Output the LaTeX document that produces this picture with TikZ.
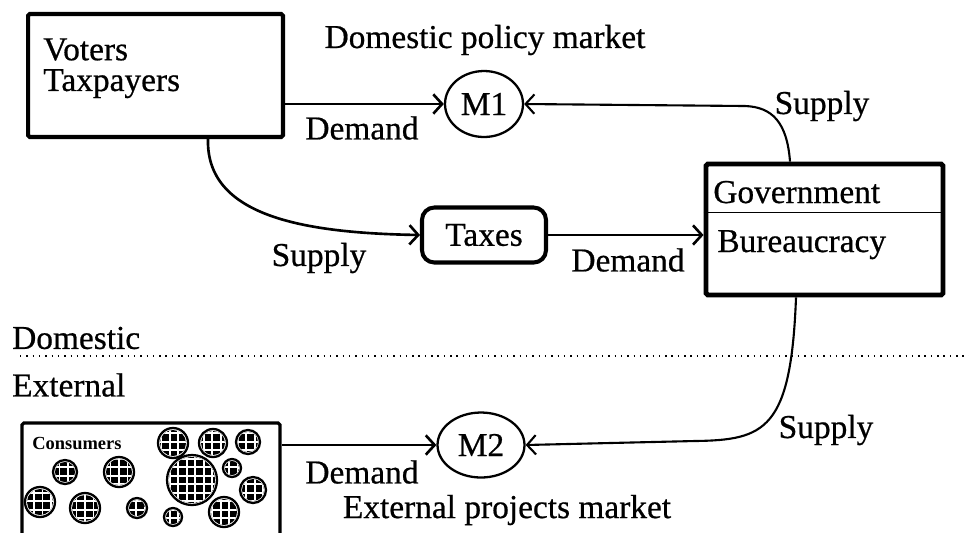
\documentclass[tikz,border=0pt]{standalone}
\usepackage{fontspec}
\setmainfont{Liberation Serif}[UprightFeatures={FakeBold=0.6}]
\usetikzlibrary{shapes.geometric,arrows.meta}

\tikzset{
  box/.style={draw, line width=2.3pt, rounded corners=1pt, inner sep=0pt},
  market/.style={draw, ellipse, line width=1.3pt, inner sep=0pt},
  flow/.style={line width=1.5pt, -{Straight Barb[length=5pt,width=11pt]}},
  txt/.style={inner sep=0pt},
}

\begin{document}
\begin{tikzpicture}[x=0.02cm, y=-0.02cm, font=\fontsize{19}{17.5}\selectfont]
\useasboundingbox (0,0) rectangle (969,532);
\clip (0,0) rectangle (969,532);

% boxes
\node[box, minimum width=5.1cm, minimum height=2.46cm] (voters) at (155.5,75.5) {};
\node[txt, anchor=north west, align=left] (vname) at (43,38) {Voters\\Taxpayers};

\node[box, line width=2.8pt, minimum width=4.74cm, minimum height=2.62cm] (gov) at (824.5,229.5) {};
\coordinate (sep) at (0,212);
\draw[line width=0.5pt] (gov.west |- sep) -- (gov.east |- sep);
\node[txt, anchor=base west] (gname) at (713,203) {Government};
\node[txt, anchor=base west] (bname) at (717,252) {Bureaucracy};

\node[box, rounded corners=7pt, minimum width=2.48cm, minimum height=1.1cm] (taxes) at (484,235) {Taxes};

\node[market, minimum width=1.56cm, minimum height=1.32cm] (m1) at (484,104) {M1};
\node[market, minimum width=1.74cm, minimum height=1.3cm] (m2) at (481,445) {M2};

% consumers
\node[box, line width=1.8pt, minimum width=5.16cm, minimum height=2.6cm] (cons) at (151,488) {};
\node[txt, anchor=west, font=\fontsize{10.5}{12}\selectfont\bfseries] (cname) at (32,443) {Consumers};
\foreach \cx/\cy/\r in {173/443/15, 213/443/14, 248/442/12, 65/472/12, 119/472/15,
                       192/480/25, 232/468/9, 253/490/13, 40/502/15, 85/508/15,
                       137/508/10, 173/517/9, 224/512/15}{
  \draw[line width=1.3pt, fill=white] (\cx,\cy) circle[radius=\r];
  \begin{scope}
    \clip (\cx,\cy) circle[radius=\r-2];
    \fill (\cx-\r,\cy-\r) rectangle (\cx+\r,\cy+\r);
    \draw[white, line width=1.1pt, step=0.17cm] (\cx-\r,\cy-\r) grid (\cx+\r,\cy+\r);
  \end{scope}
}

% flows
\coordinate (bend1) at (745,106);
\coordinate (bend2) at (695,441);
\draw[flow] (voters.east |- m1) -- (m1);
\draw[flow] ([xshift=1.05cm]voters.south) .. controls (206,215) and (300,233) .. (taxes.west);
\draw[flow] (taxes) -- (taxes -| gov.west);
\draw[flow, line width=1.2pt] ([xshift=-0.69cm]gov.north) .. controls (787,122) and (772,107) .. (bend1) -- (m1.east);
\draw[flow, line width=1.2pt] ([xshift=-0.57cm]gov.south) .. controls (791,430) and (765,440) .. (bend2) -- (m2.east);
\draw[flow] (cons.east |- m2) -- (m2);

% labels
\node (dpm) at (485,40) {Domestic policy market};
\node (d1) at (362,128) {Demand};
\node (s1) at (822,106) {Supply};
\node (s2) at (319,258) {Supply};
\node (d2) at (628,260) {Demand};
\node (d3) at (362,472) {Demand};
\node (s3) at (826,430) {Supply};
\node (epm) at (507,510) {External projects market};

% domestic / external
\node[anchor=west] (dom) at (6,338) {Domestic};
\node[anchor=west] (ext) at (6,385) {External};
\draw[line width=0.8pt, dash pattern=on 0.8pt off 2.8pt] (20,356) -- (969,356);

\end{tikzpicture}
\end{document}
